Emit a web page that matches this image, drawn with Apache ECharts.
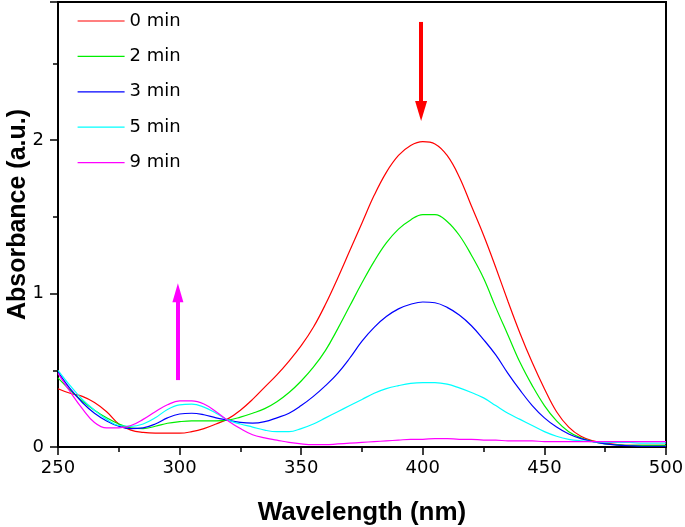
<!DOCTYPE html>
<html>
<head>
<meta charset="utf-8">
<script src="https://cdn.jsdelivr.net/npm/echarts@6/dist/echarts.min.js"></script>
<style>html,body{margin:0;padding:0;background:#fff;}#c{width:685px;height:527px;}</style>
</head>
<body>
<div id="c"></div>
<script>
// Wavelength grid (nm), 250..500 every 5 nm
const wavelengths = [250,255,260,265,270,275,280,285,290,295,300,305,310,315,320,325,330,335,340,345,350,355,360,365,370,375,380,385,390,395,400,405,410,415,420,425,430,435,440,445,450,455,460,465,470,475,480,485,490,495,500];
const seriesNames = ['0 min','2 min','3 min','5 min','9 min'];
const abs0 = [0.38,0.35,0.33,0.29,0.23,0.15,0.11,0.095,0.09,0.09,0.09,0.10,0.12,0.15,0.185,0.24,0.31,0.39,0.47,0.56,0.66,0.78,0.93,1.10,1.28,1.46,1.64,1.79,1.90,1.965,1.99,1.975,1.90,1.76,1.57,1.38,1.17,0.95,0.74,0.55,0.38,0.23,0.13,0.07,0.04,0.025,0.015,0.01,0.01,0.01,0.01];
const abs2 = [0.45,0.37,0.30,0.24,0.19,0.15,0.125,0.12,0.135,0.155,0.165,0.17,0.17,0.17,0.175,0.195,0.22,0.25,0.295,0.355,0.43,0.52,0.63,0.77,0.92,1.07,1.21,1.33,1.42,1.48,1.515,1.515,1.47,1.38,1.25,1.10,0.91,0.73,0.55,0.40,0.27,0.17,0.10,0.06,0.035,0.02,0.015,0.01,0.01,0.01,0.01];
const abs3 = [0.49,0.38,0.29,0.22,0.17,0.135,0.12,0.125,0.15,0.19,0.215,0.22,0.21,0.19,0.175,0.16,0.155,0.165,0.19,0.22,0.27,0.33,0.40,0.48,0.58,0.69,0.78,0.85,0.90,0.93,0.945,0.94,0.91,0.86,0.79,0.70,0.60,0.48,0.37,0.27,0.19,0.13,0.085,0.055,0.035,0.02,0.012,0.008,0.005,0.005,0.005];
const abs5 = [0.50,0.40,0.31,0.24,0.18,0.14,0.135,0.15,0.19,0.245,0.275,0.28,0.26,0.22,0.175,0.15,0.13,0.11,0.10,0.10,0.12,0.15,0.19,0.23,0.27,0.31,0.35,0.38,0.40,0.415,0.42,0.42,0.41,0.385,0.355,0.32,0.27,0.22,0.18,0.14,0.10,0.07,0.05,0.04,0.035,0.03,0.03,0.03,0.025,0.025,0.025];
const abs9 = [0.48,0.36,0.25,0.16,0.125,0.125,0.14,0.18,0.23,0.275,0.30,0.30,0.28,0.23,0.17,0.12,0.08,0.06,0.045,0.03,0.02,0.015,0.015,0.02,0.025,0.03,0.035,0.04,0.045,0.05,0.05,0.055,0.055,0.05,0.05,0.045,0.045,0.04,0.04,0.04,0.035,0.035,0.035,0.035,0.035,0.035,0.035,0.035,0.035,0.035,0.035];
const xTicks = [250,300,350,400,450,500];
const yTicks = [0,1,2];
// Arrows: [wavelength, absorbance] start -> head
const redArrow = [[399.3, 2.77], [399.3, 2.19]];
const magentaArrow = [[299.3, 0.436], [299.3, 1.005]];

const colors = ['#ff0000','#00ee00','#0000ff','#00ffff','#ff00ff'];
const allAbs = [abs0, abs2, abs3, abs5, abs9];

const series = allAbs.map((arr, i) => ({
  name: seriesNames[i],
  type: 'line',
  data: wavelengths.map((w, j) => [w, arr[j]]),
  symbol: 'none',
  showSymbol: false,
  smooth: 0.4,
  lineStyle: { color: colors[i], width: 1.2 },
  itemStyle: { color: colors[i] },
  z: 3
}));

function arrowLine(pts, color, size) {
  return {
    silent: true,
    animation: false,
    symbol: ['none', 'triangle'],
    symbolSize: size,
    label: { show: false },
    lineStyle: { color: color, width: 4, type: 'solid' },
    itemStyle: { color: color },
    emphasis: { disabled: true },
    data: [[{ coord: pts[0] }, { coord: pts[1] }]]
  };
}
series[0].markLine = arrowLine(redArrow, '#ff0000', [12, 20]);
series[4].markLine = arrowLine(magentaArrow, '#ff00ff', [11, 19]);

const chart = echarts.init(document.getElementById('c'), null, { renderer: 'canvas' });
chart.setOption({
  animation: false,
  backgroundColor: '#fff',
  grid: { left: 58, right: 19, top: 2, bottom: 80, show: true, borderColor: '#000', borderWidth: 2, containLabel: false, outerBoundsMode: 'none' },
  legend: {
    orient: 'vertical',
    left: 72,
    top: 7,
    itemWidth: 47,
    itemHeight: 14,
    itemGap: 17.4,
    itemStyle: { opacity: 0, borderWidth: 0 },
    lineStyle: { width: 1.2 },
    textStyle: { fontFamily: 'DejaVu Sans', fontSize: 18, color: '#000' },
    data: seriesNames
  },
  xAxis: {
    type: 'value',
    min: 250, max: 500, interval: 50,
    name: 'Wavelength (nm)',
    nameLocation: 'middle',
    nameGap: 53,
    nameTextStyle: { fontFamily: 'Liberation Sans', fontWeight: 'bold', fontSize: 26, color: '#000' },
    axisLine: { show: true, lineStyle: { color: '#000', width: 2 } },
    axisTick: { show: true, inside: false, length: 8, lineStyle: { color: '#000', width: 1.5 } },
    minorTick: { show: true, splitNumber: 2, length: 5, lineStyle: { color: '#000', width: 1.5 } },
    axisLabel: { fontFamily: 'DejaVu Sans', fontSize: 18, color: '#000', margin: 12, formatter: v => xTicks.includes(v) ? String(v) : '' },
    splitLine: { show: false }
  },
  yAxis: {
    type: 'value',
    min: 0, max: 2.9, interval: 1,
    name: 'Absorbance (a.u.)',
    nameLocation: 'middle',
    nameGap: 27,
    nameMoveOverlap: false,
    nameTextStyle: { fontFamily: 'Liberation Sans', fontWeight: 'bold', fontSize: 25, color: '#000', padding: [0, 0, 0, 20] },
    axisLine: { show: true, lineStyle: { color: '#000', width: 2 } },
    axisTick: { show: true, inside: false, length: 8, lineStyle: { color: '#000', width: 1.5 } },
    minorTick: { show: true, splitNumber: 2, length: 5, lineStyle: { color: '#000', width: 1.5 } },
    axisLabel: { fontFamily: 'DejaVu Sans', fontSize: 18, color: '#000', margin: 14, formatter: v => yTicks.includes(v) ? String(v) : '' },
    splitLine: { show: false }
  },
  series: series
});
</script>
</body>
</html>
